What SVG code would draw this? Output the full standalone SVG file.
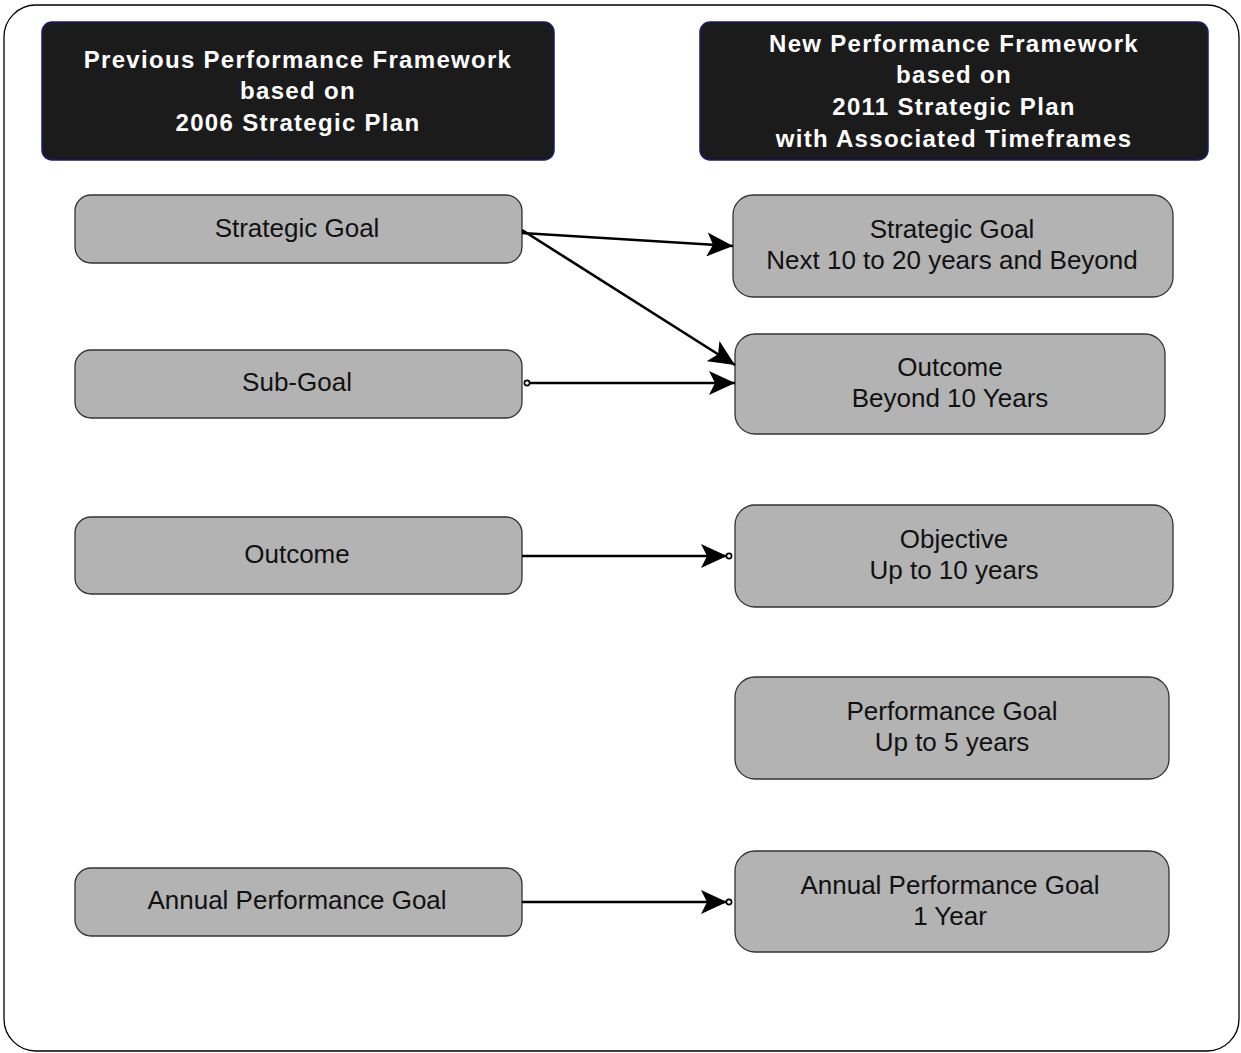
<svg xmlns="http://www.w3.org/2000/svg" width="1241" height="1053" viewBox="0 0 1241 1053">
<style>
.frame{fill:#fff;stroke:#000;stroke-width:1.3}
.hdr{fill:#1b1b1b;stroke:#1a1a6e;stroke-width:1.5}
.hdr-t{font-family:"Liberation Sans",Arial,sans-serif;font-weight:bold;font-size:24px;fill:#fff;text-anchor:middle;letter-spacing:1.3px}
.node{fill:#b3b3b3;stroke:#333;stroke-width:1.3}
.node-t{font-family:"Liberation Sans",Arial,sans-serif;font-size:26px;fill:#111;text-anchor:middle}
.conn{stroke:#000;stroke-width:2.6;fill:none}
</style>
<defs>
<marker id="arr" viewBox="0 0 26 24" refX="26" refY="12" markerWidth="26" markerHeight="24" markerUnits="userSpaceOnUse" orient="auto">
<path d="M0,0 L26,12 L0,24 L6,12 Z" fill="#000"/>
</marker>
<marker id="dot" viewBox="0 0 8 8" refX="4" refY="4" markerWidth="8" markerHeight="8" markerUnits="userSpaceOnUse">
<circle cx="4" cy="4" r="2.6" fill="#fff" stroke="#000" stroke-width="1.6"/>
</marker>
</defs>
<rect class="frame" x="4" y="5" width="1235" height="1046" rx="32"/>
<g id="hdr-prev">
<rect class="hdr" x="42" y="22" width="512" height="138" rx="10"/>
<text class="hdr-t" x="298" y="68">Previous Performance Framework</text>
<text class="hdr-t" x="298" y="99">based on</text>
<text class="hdr-t" x="298" y="131">2006 Strategic Plan</text>
</g>
<g id="hdr-new">
<rect class="hdr" x="700" y="22" width="508" height="138" rx="10"/>
<text class="hdr-t" x="954" y="52">New Performance Framework</text>
<text class="hdr-t" x="954" y="83">based on</text>
<text class="hdr-t" x="954" y="115">2011 Strategic Plan</text>
<text class="hdr-t" x="954" y="147">with Associated Timeframes</text>
</g>
<g id="l-strategic">
<rect class="node" x="75" y="195" width="447" height="68" rx="16"/>
<text class="node-t" x="297" y="237">Strategic Goal</text>
</g>
<g id="l-subgoal">
<rect class="node" x="75" y="350" width="447" height="68" rx="16"/>
<text class="node-t" x="297" y="391">Sub-Goal</text>
</g>
<g id="l-outcome">
<rect class="node" x="75" y="517" width="447" height="77" rx="16"/>
<text class="node-t" x="297" y="563">Outcome</text>
</g>
<g id="l-annual">
<rect class="node" x="75" y="868" width="447" height="68" rx="16"/>
<text class="node-t" x="297" y="909">Annual Performance Goal</text>
</g>
<g id="r-strategic">
<rect class="node" x="733" y="195" width="440" height="102" rx="20"/>
<text class="node-t" x="952" y="238">Strategic Goal</text>
<text class="node-t" x="952" y="269">Next 10 to 20 years and Beyond</text>
</g>
<g id="r-outcome">
<rect class="node" x="735" y="334" width="430" height="100" rx="20"/>
<text class="node-t" x="950" y="376">Outcome</text>
<text class="node-t" x="950" y="407">Beyond 10 Years</text>
</g>
<g id="r-objective">
<rect class="node" x="735" y="505" width="438" height="102" rx="20"/>
<text class="node-t" x="954" y="548">Objective</text>
<text class="node-t" x="954" y="579">Up to 10 years</text>
</g>
<g id="r-performance">
<rect class="node" x="735" y="677" width="434" height="102" rx="20"/>
<text class="node-t" x="952" y="720">Performance Goal</text>
<text class="node-t" x="952" y="751">Up to 5 years</text>
</g>
<g id="r-annual">
<rect class="node" x="735" y="851" width="434" height="101" rx="20"/>
<text class="node-t" x="950" y="894">Annual Performance Goal</text>
<text class="node-t" x="950" y="925">1 Year</text>
</g>
<g id="connectors">
<line class="conn" x1="522" y1="233" x2="733" y2="246" marker-end="url(#arr)"/>
<line class="conn" x1="522" y1="230" x2="735" y2="365" marker-end="url(#arr)"/>
<line class="conn" x1="527" y1="383" x2="735" y2="383" marker-start="url(#dot)" marker-end="url(#arr)"/>
<line class="conn" x1="522" y1="556" x2="727" y2="556" marker-end="url(#arr)"/>
<circle cx="729" cy="556" r="2.6" fill="#fff" stroke="#000" stroke-width="1.6"/>
<line class="conn" x1="522" y1="902" x2="727" y2="902" marker-end="url(#arr)"/>
<circle cx="729" cy="902" r="2.6" fill="#fff" stroke="#000" stroke-width="1.6"/>
</g>
</svg>
